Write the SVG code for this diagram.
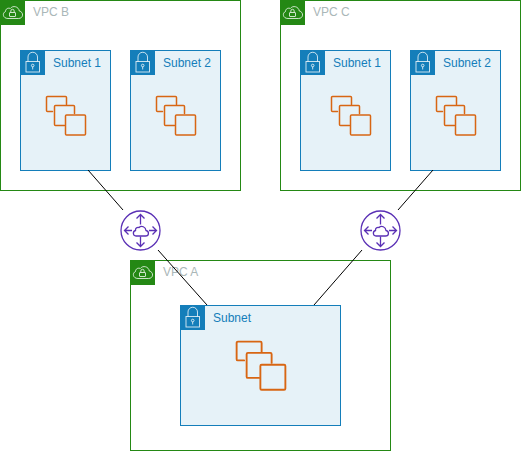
<svg xmlns="http://www.w3.org/2000/svg" width="521" height="451" viewBox="0 0 521 451">
<style>
.vpc{fill:#fff;stroke:#248814;stroke-width:1}
.sub{fill:#e6f2f8;stroke:#147eba;stroke-width:1}
.vt{font:12px "Liberation Sans",Arial,sans-serif;fill:#aab7b8}
.st{font:12px "Liberation Sans",Arial,sans-serif;fill:#147eba}
.conn{stroke:#000;stroke-width:1;fill:none}
.ins{fill:none;stroke:#d86613;stroke-width:1.5;stroke-linejoin:round;stroke-linecap:round}
.w{fill:none;stroke:#fff;stroke-width:.9;stroke-opacity:.85}
.pu{fill:none;stroke:#5a30b5;stroke-width:1.3}
</style>
<defs>
<g id="cloud">
<rect width="25" height="25" fill="#248814"/>
<path class="w" d="M8 18.500h10.500c5 0 5.500-6.500 .8-7.500c-.6-4.500-6.500-6-9-2.500c-2.500-1-4.800 .5-4.800 3c-3.500 1.500-2.700 7 2.500 7z"/>
<rect class="w" x="9.500" y="12.500" width="6" height="4" rx=".5"/>
<path class="w" d="M10.800 12.500v-1.500a1.700 1.700 0 0 1 3.400 0v1.500"/>
</g>
<g id="lock">
<rect width="25" height="25" fill="#147eba"/>
<rect class="w" x="6" y="11.500" width="13.500" height="10.500"/>
<path class="w" d="M8 11.500v-4.500a4.700 4.700 0 0 1 9.500 0v4.500"/>
<circle class="w" cx="12.700" cy="15.500" r="1.300"/>
<path class="w" d="M12.700 16.800v2.700"/>
</g>
<g id="ins">
<path class="ins" d="M6.500 15.500h-5a1 1 0 0 1-1-1v-13a1 1 0 0 1 1-1h18a1 1 0 0 1 1 1v7"/>
<path class="ins" d="M18.500 29.500h-9a1 1 0 0 1-1-1v-18a1 1 0 0 1 1-1h18a1 1 0 0 1 1 1v7"/>
<rect class="ins" x="19.500" y="19" width="20" height="20" rx="1"/>
</g>
<g id="vpce">
<circle class="pu" r="19.500" style="fill:#fff"/>
<path class="pu" d="M0-6v-10M-4-12l4-4l4 4M0 6v10M-4 12l4 4l4-4M-8.500 0h-7.500M-12-4l-4 4l4 4M8.500 0h7.500M12-4l4 4l-4 4"/>
<path class="pu" d="M-4.500 5.500h9.500c3.800 0 3.800-5 .5-5.500c-.3-3.500-4.500-5.500-7-3c-2.200-.5-3.800 .8-3.500 3c-3 .8-2.800 5.500 .5 5.500z"/>
</g>
</defs>
<g id="vpc-b">
<rect class="vpc" x="0.500" y="0.500" width="240" height="190"/>
<use href="#cloud" x="0" y="0"/>
<text class="vt" x="33" y="16">VPC B</text>
</g>
<g id="vpc-c">
<rect class="vpc" x="280.500" y="0.500" width="240" height="190"/>
<use href="#cloud" x="280" y="0"/>
<text class="vt" x="313" y="16">VPC C</text>
</g>
<g id="vpc-a">
<rect class="vpc" x="130.500" y="260.500" width="260" height="190"/>
<use href="#cloud" x="130" y="260"/>
<text class="vt" x="163" y="276">VPC A</text>
</g>
<g id="subnet-b1">
<rect class="sub" x="20.500" y="50.500" width="90" height="120"/>
<use href="#lock" x="20" y="50"/>
<text class="st" x="53" y="67">Subnet 1</text>
<use href="#ins" x="46" y="96"/>
</g>
<g id="subnet-b2">
<rect class="sub" x="130.500" y="50.500" width="90" height="120"/>
<use href="#lock" x="130" y="50"/>
<text class="st" x="163" y="67">Subnet 2</text>
<use href="#ins" x="156" y="96"/>
</g>
<g id="subnet-c1">
<rect class="sub" x="300.500" y="50.500" width="90" height="120"/>
<use href="#lock" x="300" y="50"/>
<text class="st" x="333" y="67">Subnet 1</text>
<use href="#ins" x="331" y="96"/>
</g>
<g id="subnet-c2">
<rect class="sub" x="410.500" y="50.500" width="90" height="120"/>
<use href="#lock" x="410" y="50"/>
<text class="st" x="443" y="67">Subnet 2</text>
<use href="#ins" x="436" y="96"/>
</g>
<g id="subnet-a">
<rect class="sub" x="180.500" y="305.500" width="160" height="120"/>
<use href="#lock" x="180" y="305"/>
<text class="st" x="213" y="322">Subnet</text>
<use href="#ins" transform="translate(236 341) scale(1.25)"/>
</g>
<g id="connectors">
<path class="conn" d="M88 170L123 210"/>
<path class="conn" d="M158 250L207 305"/>
<path class="conn" d="M433 170L398 210"/>
<path class="conn" d="M362 250L314 305"/>
</g>
<g id="endpoint-left"><use href="#vpce" x="140.500" y="230.500"/></g>
<g id="endpoint-right"><use href="#vpce" x="380.500" y="230.500"/></g>
</svg>
